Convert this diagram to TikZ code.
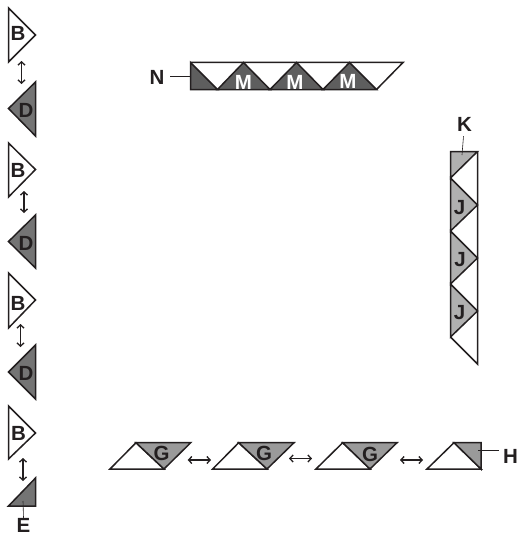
\documentclass[tikz,border=0pt]{standalone}
\usepackage{fontspec}
\setmainfont{Liberation Sans}
\usetikzlibrary{arrows.meta}
\definecolor{ink}{HTML}{231F20}
\tikzset{
  tri/.style={draw=ink,line width=1.5pt,line join=miter,fill=white},
  edge/.style={draw=ink,line width=1.5pt,line cap=butt},
  dtri/.style={tri,fill=#1},
  lab/.style={font=\bfseries\fontsize{20.5}{20.5}\selectfont,text=ink,inner sep=0pt},
  wlab/.style={lab,text=white},
  link/.style={draw=ink,line width=1.3pt,{Straight Barb[length=3.2pt,width=7pt]}-{Straight Barb[length=3.2pt,width=7pt]}},
  leader/.style={draw=ink,line width=0.6pt}
}
\definecolor{dk}{HTML}{747474}
\definecolor{ndk}{HTML}{5E5E5E}
\definecolor{gg}{HTML}{9A9A9A}
\definecolor{jj}{HTML}{B0B0B0}
\begin{document}
\begin{tikzpicture}[x=1pt,y=-1pt]
\useasboundingbox (0,0) rectangle (518,535);
% left column
\draw[tri] (8.5,8) -- (35.5,35) -- (8.5,62) -- cycle;
\draw[dtri=dk] (35.5,82) -- (8.5,108.5) -- (35.5,136) -- cycle;
\draw[tri] (8.5,143) -- (35.5,169.5) -- (8.5,197) -- cycle;
\draw[dtri=dk] (35.5,215) -- (8.5,241.5) -- (35.5,268) -- cycle;
\draw[tri] (8.5,273) -- (35.5,300) -- (8.5,328) -- cycle;
\draw[dtri=dk] (35.5,345) -- (8.5,372) -- (35.5,399) -- cycle;
\draw[tri] (8.5,406) -- (35.5,433) -- (8.5,459) -- cycle;
\draw[dtri=dk] (35.5,478) -- (8.5,506) -- (35.5,506) -- cycle;
\node[lab] (b1) at (18,33.5) {B};
\node[lab] (d1) at (26,110) {D};
\node[lab] (b2) at (18,170) {B};
\node[lab] (d2) at (26,243) {D};
\node[lab] (b3) at (18,303) {B};
\node[lab] (d3) at (26,373) {D};
\node[lab] (b4) at (18.5,433.5) {B};
\node[lab] (e) at (23.5,525) {E};
\coordinate (a1) at (21.5,61); \coordinate (a1e) at (21.5,84);
\coordinate (a2) at (24,191); \coordinate (a2e) at (24,213);
\coordinate (a3) at (20.5,324); \coordinate (a3e) at (20.5,347);
\coordinate (a4) at (23,458); \coordinate (a4e) at (23,481);
\draw[link] (a1) -- (a1e);
\draw[link] (a2) -- (a2e);
\draw[link] (a3) -- (a3e);
\draw[link] (a4) -- (a4e);
\coordinate (et) at (23,501);
\draw[leader] (et) -- (e.north);
% top strip
\draw[dtri=ndk] (190.5,62.5) -- (217.5,89.5) -- (190.5,89.5) -- cycle;
\draw[dtri=ndk] (217.5,89.5) -- (243.5,62.5) -- (270,89.5) -- cycle;
\draw[dtri=ndk] (270,89.5) -- (296.5,62.5) -- (323,89.5) -- cycle;
\draw[dtri=ndk] (323,89.5) -- (349.5,62.5) -- (376.5,89.5) -- cycle;
\draw[edge] (190.5,62.5) -- (403,62.5) -- (376.5,89.5);
\node[wlab] (m1) at (243.5,82) {M};
\node[wlab] (m2) at (295,82) {M};
\node[wlab] (m3) at (348,81) {M};
\node[lab] (n) at (157,77) {N};
\coordinate (nt) at (191,76.5);
\draw[leader] (170,76.5) -- (nt);
% right strip
\draw[dtri=jj] (450.5,151.5) -- (477.5,151.5) -- (450.5,178) -- cycle;
\draw[dtri=jj] (450.5,178) -- (477.5,205) -- (450.5,231) -- cycle;
\draw[dtri=jj] (450.5,231) -- (477.5,258) -- (450.5,284) -- cycle;
\draw[dtri=jj] (450.5,284) -- (477.5,311) -- (450.5,337) -- cycle;
\draw[edge] (477.5,151.5) -- (477.5,364) -- (450.5,337);
\node[lab] (j1) at (459.5,208) {J};
\node[lab] (j2) at (460,260) {J};
\node[lab] (j3) at (459.5,313) {J};
\node[lab] (k) at (464.5,124) {K};
\coordinate (kt) at (462,155);
\draw[leader] (k.south) ++(-1,5) -- (kt);
% bottom row
\draw[tri] (110,469) -- (136,442.7) -- (164,469) -- cycle;
\draw[dtri=gg] (136,442.7) -- (190.7,442.7) -- (164,469) -- cycle;
\draw[tri] (212.7,469) -- (238.7,442.7) -- (267,469) -- cycle;
\draw[dtri=gg] (238.7,442.7) -- (294,442.7) -- (267,469) -- cycle;
\draw[tri] (316,469) -- (342.7,442.7) -- (370,469) -- cycle;
\draw[dtri=gg] (342.7,442.7) -- (397,442.7) -- (370,469) -- cycle;
\draw[tri] (427,469) -- (454,442.7) -- (481,469) -- cycle;
\draw[dtri=gg] (454,442.7) -- (481,442.7) -- (481,469) -- cycle;
\node[lab] (g1) at (161.5,453.5) {G};
\node[lab] (g2) at (264,453.5) {G};
\node[lab] (g3) at (370,454.5) {G};
\node[lab] (h) at (510.5,456.5) {H};
\coordinate (c1) at (187.7,460); \coordinate (c1e) at (211,460);
\coordinate (c2) at (289,458.5); \coordinate (c2e) at (312,458.5);
\coordinate (c3) at (400,460); \coordinate (c3e) at (423,460);
\draw[link] (c1) -- (c1e);
\draw[link] (c2) -- (c2e);
\draw[link] (c3) -- (c3e);
\coordinate (ht) at (478,450.5); \coordinate (hl) at (499,450.5);
\draw[leader] (ht) -- (hl);
\end{tikzpicture}
\end{document}
